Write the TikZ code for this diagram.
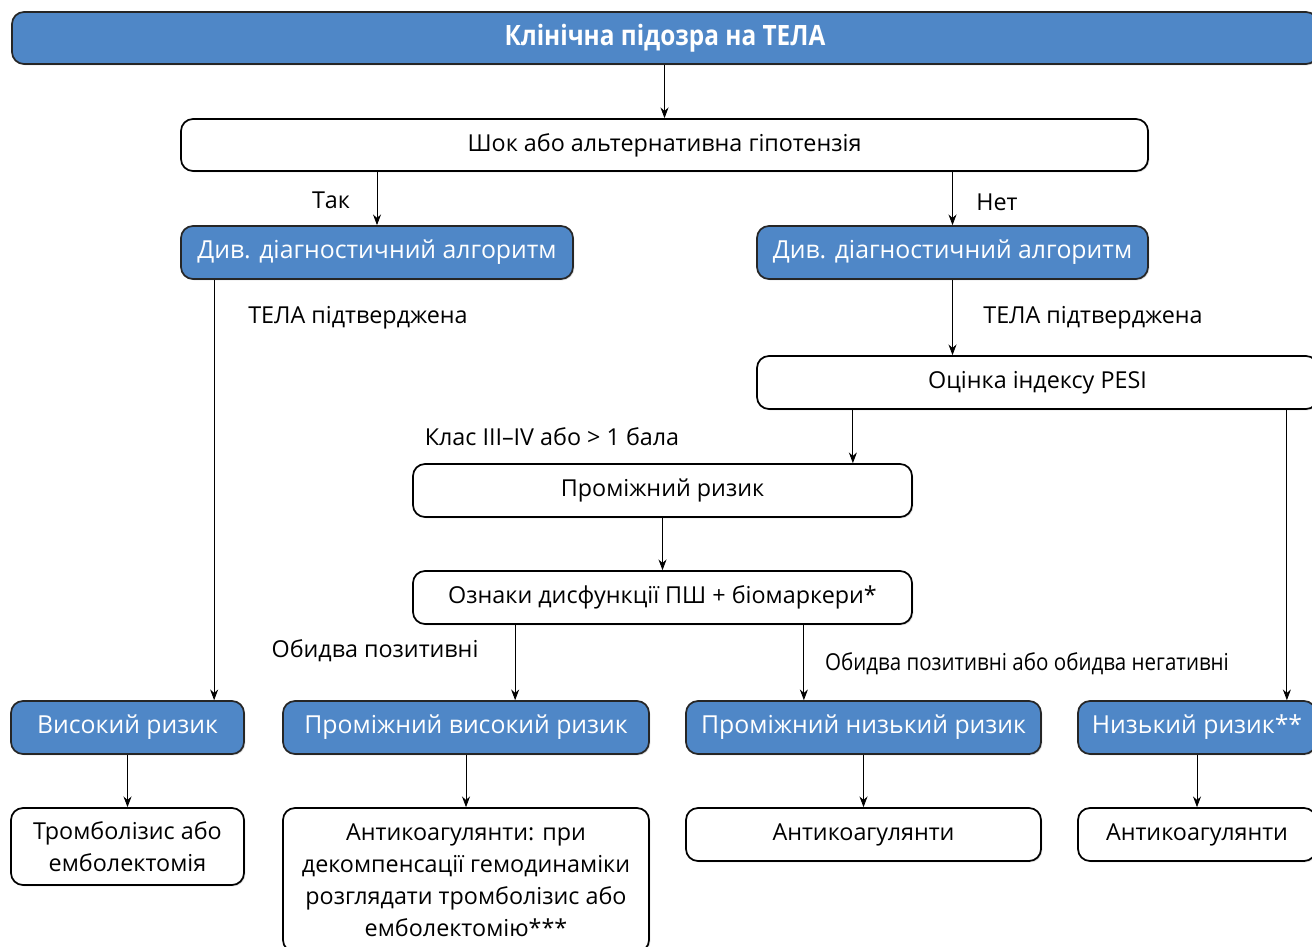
\documentclass[tikz,border=0pt]{standalone}
\usepackage{fontspec}
\setmainfont{Open Sans}
\usetikzlibrary{arrows.meta,shadows}
\definecolor{boxblue}{RGB}{79,135,199}
\newcommand{\fs}{\fontsize{17.5pt}{24pt}\selectfont}
\newcommand{\fb}{\fontsize{18.6pt}{24pt}\selectfont}
\begin{document}
\begin{tikzpicture}[x=0.75pt,y=-0.75pt,
  base/.style={draw=black, line width=1.3pt, rounded corners=9pt, align=center,
    inner sep=0pt, font=\fs,
    drop shadow={shadow xshift=1pt, shadow yshift=-1pt, opacity=0.25}},
  bluebox/.style={base, fill=boxblue, text=white, draw=black!85, font=\fb},
  whitebox/.style={base, fill=white},
  arr/.style={-{Stealth[length=8pt,width=6pt]}, line width=0.6pt},
  lbl/.style={font=\fs, inner sep=0pt}]

\useasboundingbox (0,0) rectangle (1312,946);
\clip (0,0) rectangle (1312,946);

% top of the chart
\node[bluebox, minimum width=979.5pt, minimum height=39pt,
  font=\fontsize{21pt}{24pt}\selectfont\bfseries\addfontfeature{FakeStretch=0.87}]
  (top) at (665,38) {Клінічна підозра на ТЕЛА};
\node[whitebox, minimum width=725.25pt, minimum height=39pt] (shock) at (664.5,145)
  {Шок або альтернативна гіпотензія};

% diagnostic branches
\node[bluebox, minimum width=294pt, minimum height=39.75pt] (divL) at (377,252.5)
  {Див. діагностичний алгоритм};
\node[bluebox, minimum width=293.25pt, minimum height=39.75pt] (divR) at (952.5,252.5)
  {Див. діагностичний алгоритм};
\node[whitebox, minimum width=420.75pt, minimum height=39.75pt] (pesi) at (1037.5,382.5)
  {Оцінка індексу PESI};
\node[whitebox, minimum width=374.25pt, minimum height=39.75pt] (mid) at (662.5,490.5)
  {Проміжний ризик};
\node[whitebox, minimum width=374.25pt, minimum height=39.75pt] (sign) at (662.5,597.5)
  {Ознаки дисфункції ПШ + біомаркери*};

% risk classes
\node[bluebox, minimum width=174.75pt, minimum height=39.75pt] (high) at (127.5,727.5)
  {Високий ризик};
\node[bluebox, minimum width=274.5pt, minimum height=39.75pt] (ihigh) at (466,727.5)
  {Проміжний високий ризик};
\node[bluebox, minimum width=266.25pt, minimum height=39.75pt] (ilow) at (863.5,727.5)
  {Проміжний низький ризик};
\node[bluebox, minimum width=178.5pt, minimum height=39.75pt] (low) at (1197,727.5)
  {Низький ризик**};

% treatment
\node[whitebox, minimum width=174.75pt, minimum height=57.75pt] (thromb) at (127.5,846.5)
  {Тромболізис або\\емболектомія};
\node[whitebox, minimum width=274.5pt, minimum height=108pt] (anti1) at (466,880)
  {Антикоагулянти: при\\декомпенсації гемодинаміки\\розглядати тромболізис або\\емболектомію***};
\node[whitebox, minimum width=266.25pt, minimum height=39.75pt] (anti2) at (863.5,834.5)
  {Антикоагулянти};
\node[whitebox, minimum width=178.5pt, minimum height=39.75pt] (anti3) at (1197,834.5)
  {Антикоагулянти};

% connectors
\draw[arr] (top.south -| shock.north) -- (shock.north);
\draw[arr] (divL.north |- shock.south) -- (divL.north);
\draw[arr] (divR.north |- shock.south) -- (divR.north);
\draw[arr] ([xshift=25.5pt]divL.south west) coordinate (a1) -- (a1 |- high.north);
\draw[arr] (divR.south) -- (divR.south |- pesi.north);
\draw[arr] ([xshift=-45pt]mid.north east |- pesi.south) coordinate (a2) -- (a2 |- mid.north);
\draw[arr] ([xshift=-22.5pt]low.north east |- pesi.south) coordinate (a3) -- (a3 |- low.north);
\draw[arr] (mid.south) -- (sign.north);
\draw[arr] ([xshift=77.25pt]sign.south west) coordinate (a4) -- (a4 |- ihigh.north);
\draw[arr] ([xshift=-81.75pt]sign.south east) coordinate (a5) -- (a5 |- ilow.north);
\draw[arr] (high.south) -- (thromb.north);
\draw[arr] (ihigh.south) -- (ihigh.south |- anti1.north);
\draw[arr] (ilow.south) -- (ilow.south |- anti2.north);
\draw[arr] (low.south) -- (low.south |- anti3.north);

% connector labels
\node[lbl] (yes) at (331,200) {Так};
\node[lbl] (no) at (997,202) {Нет};
\node[lbl] (confL) at (358,318) {ТЕЛА підтверджена};
\node[lbl] (confR) at (1093,318) {ТЕЛА підтверджена};
\node[lbl] (cls) at (552,437) {Клас III–IV або > 1 бала};
\node[lbl] (bothpos) at (375,651) {Обидва позитивні};
\node[lbl, font=\fs\addfontfeature{FakeStretch=0.88}] (mixed) at (1027,664)
  {Обидва позитивні або обидва негативні};
\end{tikzpicture}
\end{document}
